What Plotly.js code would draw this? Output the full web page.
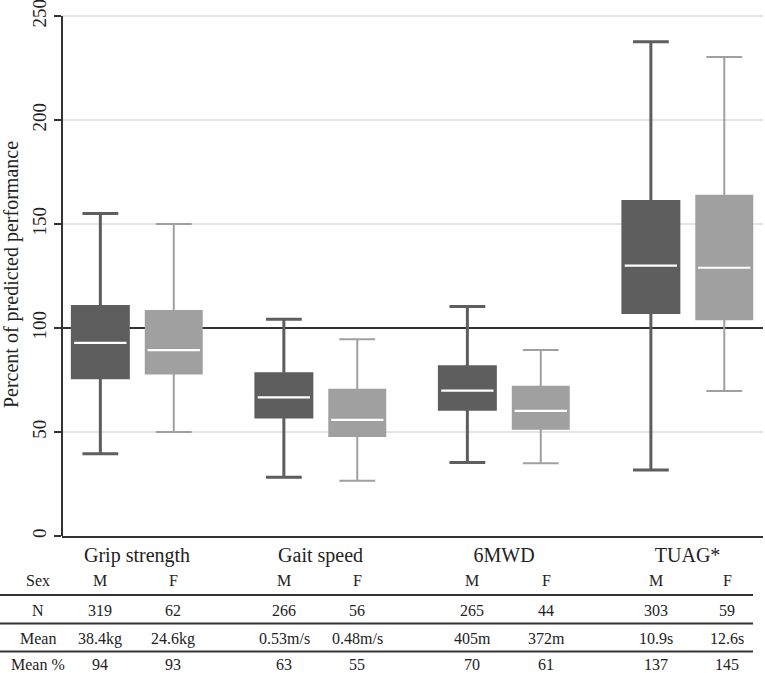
<!DOCTYPE html>
<html>
<head>
<meta charset="utf-8">
<script src="https://cdn.plot.ly/plotly-3.0.1.min.js"></script>
<style>
html,body{margin:0;padding:0;background:#fff;}
#chart{width:765px;height:673px;}
</style>
</head>
<body>
<div id="chart"></div>
<script>
// ---- Data ----
const categories = ['Grip strength', 'Gait speed', '6MWD', 'TUAG*'];

const maleLower  = [39.6, 28.2, 35.3, 31.7];
const maleQ1     = [76.1, 57.2, 60.9, 107.5];
const maleMedian = [92.9, 66.7, 69.9, 130.0];
const maleQ3     = [110.4, 78.0, 81.4, 160.9];
const maleUpper  = [155.1, 104.2, 110.4, 237.7];

const femaleLower  = [50.0, 26.6, 35.0, 69.7];
const femaleQ1     = [78.2, 48.1, 51.6, 104.2];
const femaleMedian = [89.4, 55.8, 60.2, 129.0];
const femaleQ3     = [108.2, 70.3, 71.8, 163.6];
const femaleUpper  = [150.0, 94.6, 89.4, 230.3];

const refValue = 100;
const yTicks = [0, 50, 100, 150, 200, 250];

const rowLabels  = ['Sex', 'N', 'Mean', 'Mean %'];
const sexRow     = ['M', 'F', 'M', 'F', 'M', 'F', 'M', 'F'];
const nRow       = ['319', '62', '266', '56', '265', '44', '303', '59'];
const meanRow    = ['38.4kg', '24.6kg', '0.53m/s', '0.48m/s', '405m', '372m', '10.9s', '12.6s'];
const meanPctRow = ['94', '93', '63', '55', '70', '61', '137', '145'];

// ---- Layout helpers (positions / styles) ----
const W = 765, H = 673;
const yMax = 251.5;                 // a little headroom so the 250 tick/grid is kept
const pxPerUnit = 520 / 250;
const M = {l: 62, r: 2, t: 16 - (yMax - 250) * pxPerUnit, b: 137};
const PW = W - M.l - M.r, PH = H - M.t - M.b;
const px2x = p => (p - M.l) / PW;
const py2y = p => (H - M.b - p) / PH;

const offset = 0.2;
const boxW = 0.305;
const catIdx = categories.map((c, i) => i);
const xM = catIdx.map(i => i - offset);
const xF = catIdx.map(i => i + offset);

const font = '"Liberation Serif", "Times New Roman", Times, serif';
const darkCol = '#5e5e5e';
const lightCol = '#a0a0a0';

function boxTrace(x, lo, q1, med, q3, hi, col, lw) {
  return {
    type: 'box', x: x, q1: q1, median: med, q3: q3,
    lowerfence: lo, upperfence: hi,
    width: boxW, whiskerwidth: 0.64,
    fillcolor: col, line: {color: col, width: lw},
    boxpoints: false, hoverinfo: 'skip', showlegend: false
  };
}
function medianTrace(x, med) {
  return {
    type: 'box', x: x, q1: med, median: med, q3: med,
    lowerfence: med, upperfence: med,
    width: boxW - 0.02, whiskerwidth: 0,
    fillcolor: 'rgba(0,0,0,0)', line: {color: '#ffffff', width: 2.2},
    boxpoints: false, hoverinfo: 'skip', showlegend: false
  };
}

const traces = [
  boxTrace(xM, maleLower, maleQ1, maleMedian, maleQ3, maleUpper, darkCol, 3),
  boxTrace(xF, femaleLower, femaleQ1, femaleMedian, femaleQ3, femaleUpper, lightCol, 2),
  medianTrace(xM, maleMedian),
  medianTrace(xF, femaleMedian)
];

// ---- Table (annotations + rule lines) ----
const colPx = [100, 173, 284, 357, 472, 546, 656, 727];
const rowPy = [581, 611, 639, 665];
const labelPx = 38;
const rows = [sexRow, nRow, meanRow, meanPctRow];
const annotations = [];
rows.forEach((row, r) => {
  annotations.push({
    xref: 'paper', yref: 'paper', x: px2x(labelPx), y: py2y(rowPy[r]),
    text: rowLabels[r], showarrow: false, xanchor: 'center', yanchor: 'middle',
    font: {family: font, size: 16, color: '#222'}
  });
  row.forEach((t, c) => {
    annotations.push({
      xref: 'paper', yref: 'paper', x: px2x(colPx[c]), y: py2y(rowPy[r]),
      text: t, showarrow: false, xanchor: 'center', yanchor: 'middle',
      font: {family: font, size: 16, color: '#222'}
    });
  });
});

const rulePy = [595, 623.5, 651.5];
const shapes = rulePy.map(p => ({
  type: 'line', xref: 'paper', yref: 'paper',
  x0: px2x(0), x1: px2x(753), y0: py2y(p), y1: py2y(p),
  line: {color: '#333', width: 2}
}));
// light gridlines (all ticks except 0 and the reference line)
yTicks.filter(v => v !== 0 && v !== refValue).forEach(v => {
  shapes.push({
    type: 'line', xref: 'paper', yref: 'y', x0: 0, x1: 1, y0: v, y1: v,
    layer: 'below', line: {color: '#dcdcdc', width: 1.5}
  });
});
shapes.push({
  type: 'line', xref: 'paper', yref: 'y', x0: 0, x1: 1, y0: refValue, y1: refValue,
  layer: 'below', line: {color: '#333', width: 2}
});
// y axis line from 0 to the top tick
shapes.push({
  type: 'line', xref: 'paper', yref: 'y', x0: 0, x1: 0,
  y0: yTicks[0], y1: yTicks[yTicks.length - 1],
  line: {color: '#333', width: 2}
});

const layout = {
  width: W, height: H,
  margin: M,
  paper_bgcolor: '#fff', plot_bgcolor: '#fff',
  showlegend: false,
  font: {family: font, color: '#222'},
  boxmode: 'overlay',
  xaxis: {
    range: [-0.409, 3.411],
    tickvals: catIdx, ticktext: categories,
    ticks: '', showgrid: false, zeroline: false,
    showline: true, linecolor: '#333', linewidth: 2,
    tickfont: {family: font, size: 20, color: '#222'},
    fixedrange: true
  },
  yaxis: {
    range: [0, yMax], tickvals: yTicks,
    ticks: 'outside', ticklen: 7, tickwidth: 2, tickcolor: '#333',
    showline: false, showgrid: false, zeroline: false, tickangle: -90,
    ticklabeloverflow: 'allow',
    tickfont: {family: font, size: 19, color: '#222'},
    title: {text: 'Percent of predicted performance', font: {family: font, size: 20, color: '#222'}, standoff: 6},
    fixedrange: true
  },
  annotations: annotations,
  shapes: shapes
};

Plotly.newPlot('chart', traces, layout, {displayModeBar: false, staticPlot: true});
</script>
</body>
</html>
